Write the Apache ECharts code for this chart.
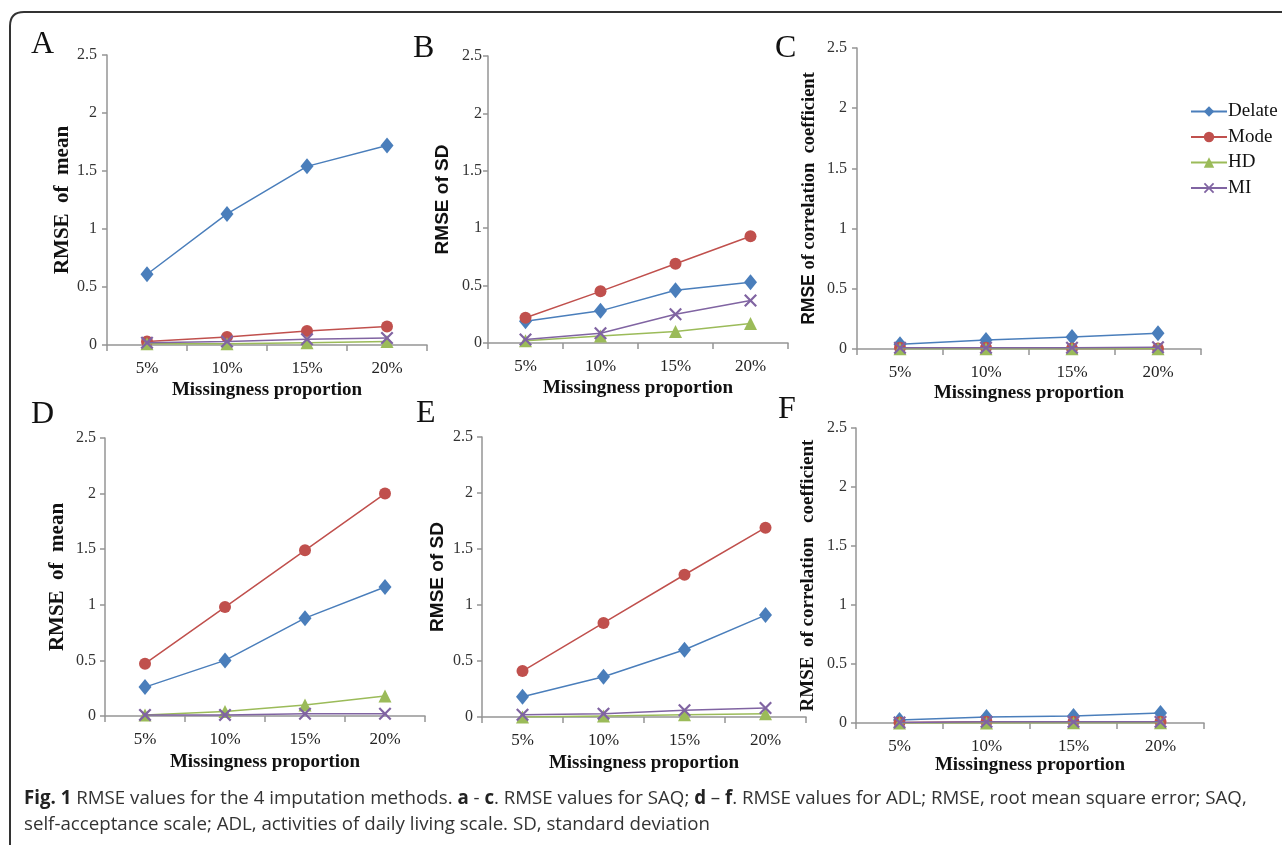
<!DOCTYPE html>
<html><head><meta charset="utf-8">
<script src="https://cdn.jsdelivr.net/npm/echarts@6/dist/echarts.min.js"></script>
<style>html,body{margin:0;padding:0;background:#fff}#c{width:1282px;height:845px}</style>
</head><body><div id="c"></div>
<script>
const categories = ['5%', '10%', '15%', '20%'];
const methods = ['Delate', 'Mode', 'HD', 'MI'];
const yTicks = [0, 0.5, 1, 1.5, 2, 2.5];
const panelLetters = ['A', 'B', 'C', 'D', 'E', 'F'];
const xTitle = 'Missingness proportion';
const yTitles = ['RMSE  of  mean', 'RMSE of SD', '{s|RMSE} of correlation  coefficient', 'RMSE  of  mean', 'RMSE of SD', 'RMSE  of correlation   coefficient'];

// A: SAQ, RMSE of mean
const aDelate = [0.61, 1.13, 1.54, 1.72];
const aMode = [0.03, 0.07, 0.12, 0.16];
const aHD = [0.01, 0.01, 0.02, 0.03];
const aMI = [0.02, 0.03, 0.05, 0.06];
// B: SAQ, RMSE of SD
const bDelate = [0.19, 0.28, 0.46, 0.53];
const bMode = [0.22, 0.45, 0.69, 0.93];
const bHD = [0.02, 0.06, 0.10, 0.17];
const bMI = [0.03, 0.085, 0.25, 0.37];
// C: SAQ, RMSE of correlation coefficient
const cDelate = [0.04, 0.075, 0.10, 0.13];
const cMode = [0.01, 0.01, 0.005, 0.005];
const cHD = [0.002, 0.002, 0.003, 0.003];
const cMI = [0.01, 0.01, 0.01, 0.015];
// D: ADL, RMSE of mean
const dDelate = [0.26, 0.50, 0.88, 1.16];
const dMode = [0.47, 0.98, 1.49, 2.00];
const dHD = [0.01, 0.04, 0.10, 0.18];
const dMI = [0.01, 0.01, 0.02, 0.02];
// E: ADL, RMSE of SD
const eDelate = [0.18, 0.36, 0.60, 0.91];
const eMode = [0.41, 0.84, 1.27, 1.69];
const eHD = [0.00, 0.01, 0.02, 0.03];
const eMI = [0.02, 0.03, 0.06, 0.08];
// F: ADL, RMSE of correlation coefficient
const fDelate = [0.025, 0.05, 0.06, 0.085];
const fMode = [0.005, 0.01, 0.01, 0.01];
const fHD = [0.001, 0.001, 0.002, 0.002];
const fMI = [0.005, 0.01, 0.01, 0.01];

const panelData = [
  [aDelate, aMode, aHD, aMI],
  [bDelate, bMode, bHD, bMI],
  [cDelate, cMode, cHD, cMI],
  [dDelate, dMode, dHD, dMI],
  [eDelate, eMode, eHD, eMI],
  [fDelate, fMode, fHD, fMI]
];

// layout (pixels)
const grids = [
  {left: 107, top: 55, width: 320, height: 290},
  {left: 488, top: 56, width: 300, height: 287},
  {left: 857, top: 48, width: 344, height: 301},
  {left: 105, top: 438, width: 320, height: 278},
  {left: 482, top: 437, width: 324, height: 280},
  {left: 856, top: 428, width: 348, height: 295}
];
const yNameGap = [34, 36, 38, 37, 35, 38];
const xNameGap = [36, 36, 35, 37, 37, 33];
const yLabelMargin = [10, 6, 10, 9, 9, 9];
const letterPos = [[43, 47], [425, 51], [787, 51], [43, 417], [428, 416], [790, 412]];
const yNameFont = [
  {fontFamily: 'Liberation Serif', fontSize: 21},
  {fontFamily: 'Liberation Sans', fontSize: 19},
  {fontFamily: 'Liberation Serif', fontSize: 18.5},
  {fontFamily: 'Liberation Serif', fontSize: 21},
  {fontFamily: 'Liberation Sans', fontSize: 19},
  {fontFamily: 'Liberation Serif', fontSize: 19}
];

const colors = ['#4a7ebb', '#c0504d', '#9bbb59', '#8064a2'];
const xSym = 'path://M0,1.2L1.2,0L5,3.8L8.8,0L10,1.2L6.2,5L10,8.8L8.8,10L5,6.2L1.2,10L0,8.8L3.8,5Z';
const symbols = ['diamond', 'circle', 'triangle', xSym];
const symbolSizes = [[13, 16], 12, 13, 13];

const axisColor = '#959595';
const xAxes = [], yAxes = [], series = [], gridOpts = [];
grids.forEach((g, i) => {
  gridOpts.push(Object.assign({containLabel: false}, g));
  xAxes.push({
    type: 'category', gridIndex: i, data: categories, boundaryGap: true,
    axisLine: {lineStyle: {color: axisColor, width: 1.5}},
    axisTick: {show: true, length: 6, lineStyle: {color: axisColor, width: 1.5}},
    axisLabel: {color: '#222', fontFamily: 'Liberation Serif', fontSize: 17, margin: 15},
    name: xTitle, nameLocation: 'middle', nameGap: xNameGap[i],
    nameTextStyle: {fontFamily: 'Liberation Serif', fontWeight: 'bold', fontSize: 19, color: '#111'}
  });
  yAxes.push({
    type: 'value', gridIndex: i, min: yTicks[0], max: yTicks[yTicks.length - 1], interval: 0.5,
    splitLine: {show: false},
    axisLine: {show: true, lineStyle: {color: axisColor, width: 1.5}},
    axisTick: {show: true, length: 5, lineStyle: {color: axisColor, width: 1.5}},
    axisLabel: {color: '#333', fontFamily: 'Liberation Serif', fontSize: 16, margin: yLabelMargin[i]},
    name: yTitles[i], nameLocation: 'middle', nameGap: yNameGap[i],
    nameTextStyle: Object.assign({fontWeight: 'bold', color: '#111',
      rich: {s: {fontFamily: 'Liberation Sans', fontWeight: 'bold', fontSize: 17.5, color: '#111'}}}, yNameFont[i])
  });
  panelData[i].forEach((arr, k) => {
    series.push({
      name: methods[k], type: 'line', xAxisIndex: i, yAxisIndex: i,
      data: arr, symbol: symbols[k], symbolSize: symbolSizes[k], showAllSymbol: true,
      lineStyle: {color: colors[k], width: 1.5},
      itemStyle: {color: colors[k]},
      emphasis: {disabled: true}, animation: false, z: 2 + k
    });
  });
});

const graphics = [];
panelLetters.forEach((L, i) => {
  graphics.push({type: 'text', x: letterPos[i][0] - 12, y: letterPos[i][1] - 18,
    style: {text: L, font: '32px "Liberation Serif"', fill: '#111'}});
});
const frameStyle = {stroke: '#333', lineWidth: 2, fill: null};
graphics.push({type: 'line', shape: {x1: 10, y1: 845, x2: 10, y2: 26}, style: frameStyle});
graphics.push({type: 'bezierCurve', shape: {x1: 10, y1: 26, cpx1: 10, cpy1: 12, x2: 24, y2: 12}, style: frameStyle});
graphics.push({type: 'line', shape: {x1: 24, y1: 12, x2: 1282, y2: 12}, style: frameStyle});
graphics.push({type: 'text', x: 24, y: 789, style: {
  text: '{b|Fig. 1} RMSE values for the 4 imputation methods. {b|a} - {b|c}. RMSE values for SAQ; {b|d} \u2013 {b|f}. RMSE values for ADL; RMSE, root mean square error; SAQ,',
  font: '18.7px "Open Sans"', fill: '#333',
  rich: {b: {font: 'bold 18.7px "Open Sans"', fill: '#222'}}}});
graphics.push({type: 'text', x: 24, y: 815, style: {
  text: 'self-acceptance scale; ADL, activities of daily living scale. SD, standard deviation',
  font: '18.7px "Open Sans"', fill: '#333'}});

const chart = echarts.init(document.getElementById('c'), null, {renderer: 'canvas'});
chart.setOption({
  animation: false,
  backgroundColor: '#fff',
  grid: gridOpts, xAxis: xAxes, yAxis: yAxes, series: series,
  legend: {
    data: methods, orient: 'vertical', left: 1190, top: 102, padding: 0,
    itemWidth: 36, itemHeight: 13, itemGap: 6.5,
    textStyle: {fontFamily: 'Liberation Serif', fontSize: 19, color: '#111', padding: [0, 0, 0, -4]},
    selectedMode: false
  },
  graphic: graphics
});
</script></body></html>
